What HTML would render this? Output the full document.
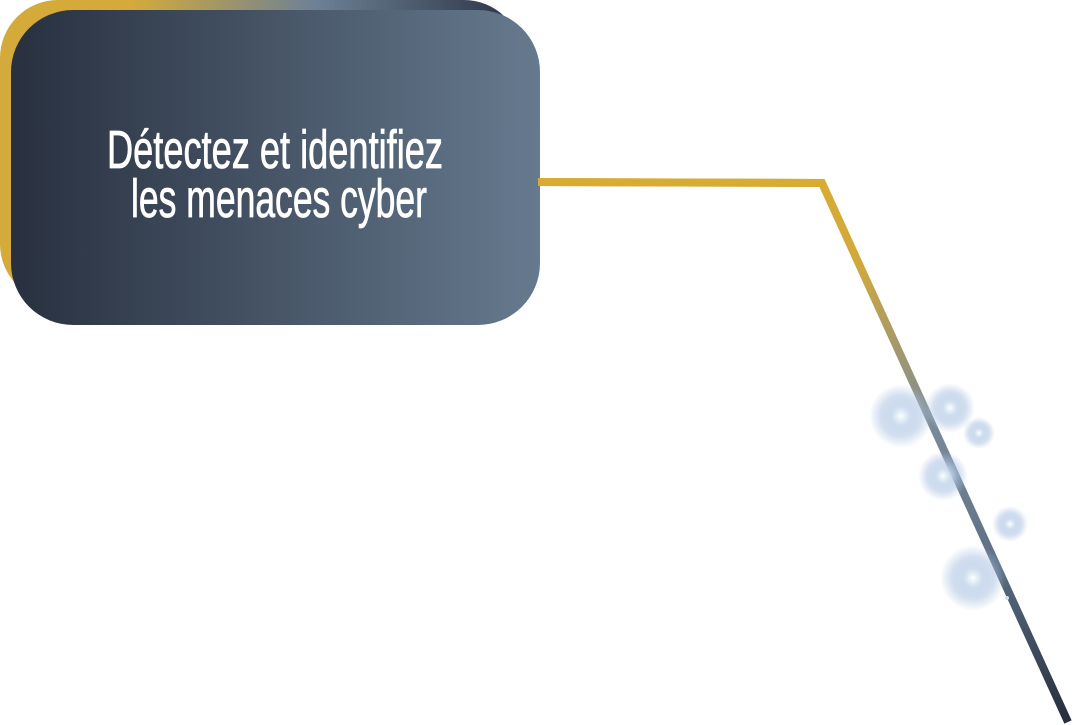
<!DOCTYPE html>
<html><head><style>
html,body{margin:0;padding:0;background:#fff;width:1074px;height:725px;overflow:hidden}
</style></head><body>
<svg width="1074" height="725" viewBox="0 0 1074 725" xmlns="http://www.w3.org/2000/svg">
<defs>
<linearGradient id="back" x1="0" y1="0" x2="1" y2="0">
<stop offset="0" stop-color="#d4ab3a"/><stop offset="0.25" stop-color="#d4ab3a"/>
<stop offset="0.6" stop-color="#6e8196"/><stop offset="1" stop-color="#2a3344"/>
</linearGradient>
<linearGradient id="front" x1="0" y1="0" x2="1" y2="0">
<stop offset="0" stop-color="#28303f"/><stop offset="1" stop-color="#667a8f"/>
</linearGradient>
<linearGradient id="line" gradientUnits="userSpaceOnUse" x1="822" y1="183" x2="1068" y2="722">
<stop offset="0" stop-color="#d8ab33"/><stop offset="0.15" stop-color="#d0a93c"/>
<stop offset="0.45" stop-color="#7a8a98"/><stop offset="0.7" stop-color="#5d7085"/>
<stop offset="1" stop-color="#262d3c"/>
</linearGradient>
<radialGradient id="glow">
<stop offset="0" stop-color="#ffffff"/><stop offset="0.1" stop-color="#e8f2fb"/>
<stop offset="0.3" stop-color="#c8d8ec" stop-opacity="0.9"/>
<stop offset="0.65" stop-color="#a8c0e0" stop-opacity="0.5"/>
<stop offset="1" stop-color="#a8c0e0" stop-opacity="0"/>
</radialGradient>
</defs>
<rect x="0" y="0" width="522" height="302" rx="58" fill="url(#back)"/>
<rect x="11" y="10" width="529" height="315" rx="62" fill="url(#front)"/>
<g fill="#fff" stroke="#fff" stroke-width="0.8" font-family="'Liberation Sans',sans-serif" font-size="54">
<text x="107" y="168" textLength="336" lengthAdjust="spacingAndGlyphs">Détectez et identifiez</text>
<text x="131" y="217" textLength="296" lengthAdjust="spacingAndGlyphs">les menaces cyber</text>
</g>
<polyline points="538,182 822,183 1068,722" fill="none" stroke="url(#line)" stroke-width="8"/>
<polyline points="538,182 822,183" fill="none" stroke="#d8ab33" stroke-width="8"/>
<circle cx="901" cy="416" r="32" fill="url(#glow)"/>
<circle cx="950" cy="408" r="25" fill="url(#glow)"/>
<circle cx="979" cy="433" r="16" fill="url(#glow)"/>
<circle cx="943" cy="476" r="25" fill="url(#glow)"/>
<circle cx="1010" cy="524" r="18" fill="url(#glow)"/>
<circle cx="973" cy="578" r="33" fill="url(#glow)"/>
<circle cx="1007" cy="598" r="2" fill="#cfe0f5"/>
</svg>
</body></html>
